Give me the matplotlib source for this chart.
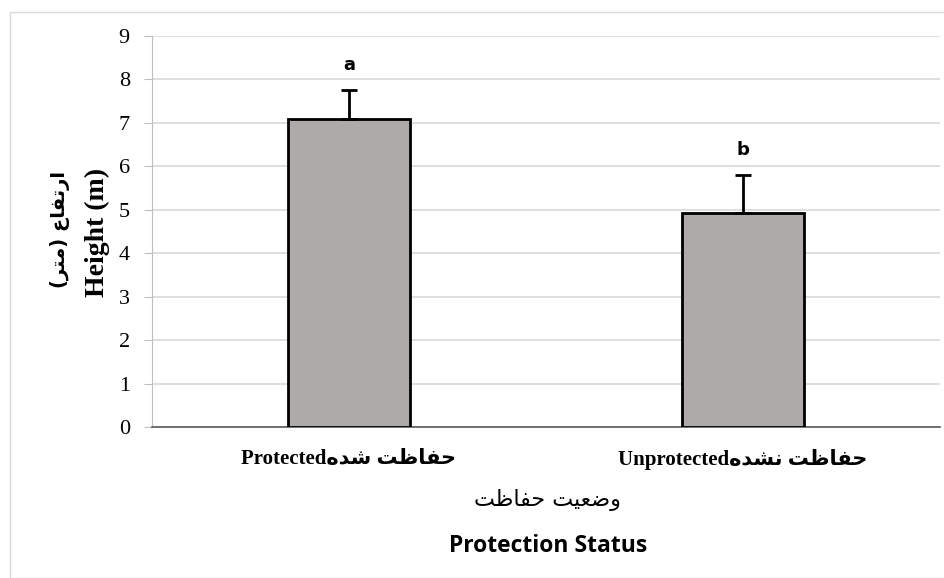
import matplotlib
matplotlib.use("Agg")
import matplotlib.pyplot as plt
from matplotlib.patches import Rectangle

# --- data ---
categories_en = ["Protected", "Unprotected"]
categories_fa = ["حفاظت شده", "حفاظت نشده"]
heights = [7.1, 4.92]
errors = [0.65, 0.88]
letters = ["a", "b"]
yticks = list(range(0, 10))

# minimal Persian shaping (presentation forms) since matplotlib does no shaping
FORMS = {
    # letter: (isolated, final, initial, medial) ; None initial => right-joining only
    "ا": ("\uFE8D", "\uFE8E", None, None),
    "ر": ("\uFEAD", "\uFEAE", None, None),
    "د": ("\uFEA9", "\uFEAA", None, None),
    "و": ("\uFEED", "\uFEEE", None, None),
    "ت": ("\uFE95", "\uFE96", "\uFE97", "\uFE98"),
    "ف": ("\uFED1", "\uFED2", "\uFED3", "\uFED4"),
    "ع": ("\uFEC9", "\uFECA", "\uFECB", "\uFECC"),
    "م": ("\uFEE1", "\uFEE2", "\uFEE3", "\uFEE4"),
    "ح": ("\uFEA1", "\uFEA2", "\uFEA3", "\uFEA4"),
    "ظ": ("\uFEC5", "\uFEC6", "\uFEC7", "\uFEC8"),
    "ش": ("\uFEB5", "\uFEB6", "\uFEB7", "\uFEB8"),
    "ه": ("\uFEE9", "\uFEEA", "\uFEEB", "\uFEEC"),
    "ن": ("\uFEE5", "\uFEE6", "\uFEE7", "\uFEE8"),
    "ض": ("\uFEBD", "\uFEBE", "\uFEBF", "\uFEC0"),
    "ی": ("\uFBFC", "\uFBFD", "\uFBFE", "\uFBFF"),
}
MIRROR = {"(": ")", ")": "("}


def fa(text):
    out = []
    for i, ch in enumerate(text):
        if ch not in FORMS:
            out.append(MIRROR.get(ch, ch))
            continue
        prev = text[i - 1] if i > 0 else ""
        nxt = text[i + 1] if i + 1 < len(text) else ""
        joins_prev = prev in FORMS and FORMS[prev][2] is not None
        joins_next = nxt in FORMS and FORMS[ch][2] is not None
        iso, fin, ini, med = FORMS[ch]
        if joins_prev and joins_next:
            out.append(med)
        elif joins_prev:
            out.append(fin)
        elif joins_next:
            out.append(ini)
        else:
            out.append(iso)
    return "".join(reversed(out))


serif = ["Liberation Serif", "DejaVu Sans"]

fig = plt.figure(figsize=(9.45, 5.78), dpi=100)
ax = fig.add_axes([152 / 945, 1 - 427 / 578, 788 / 945, 391 / 578])

x = list(range(len(heights)))
ax.bar(x, heights, width=0.31, color="#aeaaaa", edgecolor="black", linewidth=2, zorder=3)
ax.errorbar(x, heights, yerr=[[0] * len(errors), errors], fmt="none",
            ecolor="black", elinewidth=2, capsize=6, capthick=2, zorder=4)
for xi, h, e, l in zip(x, heights, errors, letters):
    ax.annotate(l, (xi, h + e), xytext=(0, 18), textcoords="offset points",
                ha="center", va="center", fontsize=13, fontweight="bold",
                family="DejaVu Sans")

ax.set_xlim(-0.5, 1.5)
ax.set_ylim(0, 9)
ax.set_yticks(yticks)
ax.set_yticklabels([str(t) for t in yticks], family="Liberation Serif", fontsize=16)
ax.grid(axis="y", color="#d9d9d9", linewidth=1.2, zorder=0)
ax.set_xticks(x)
ax.set_xticklabels([en + fa(p) for en, p in zip(categories_en, categories_fa)],
                   family=serif, fontsize=15, fontweight="bold")
ax.tick_params(axis="x", length=0, pad=16)
ax.tick_params(axis="y", length=6, color="#bfbfbf", pad=10)

for s in ["top", "right"]:
    ax.spines[s].set_visible(False)
ax.spines["left"].set_color("#bfbfbf")
ax.spines["bottom"].set_color("#595959")
ax.spines["bottom"].set_linewidth(1.2)

# axis titles
fig.text(60 / 945, 1 - 230 / 578, fa("ارتفاع (متر)"), rotation=90, ha="center",
         va="center", family="DejaVu Sans", fontsize=14, fontweight="bold")
fig.text(97 / 945, 1 - 232 / 578, "Height (m)", rotation=90, ha="center",
         va="center", family="Liberation Serif", fontsize=20, fontweight="bold")
fig.text(548 / 945, 1 - 500 / 578, fa("وضعیت حفاظت"), ha="center", va="center",
         family="DejaVu Sans", fontsize=16)
fig.text(548 / 945, 1 - 546 / 578, "Protection Status", ha="center", va="center",
         family="Open Sans", fontsize=16.5, fontweight="bold")

fig.patches.append(Rectangle((10 / 945, 0), 1, 1 - 12 / 578, transform=fig.transFigure,
                             fill=False, edgecolor="#d9d9d9", linewidth=1))

fig.savefig("out.png", dpi=100)
